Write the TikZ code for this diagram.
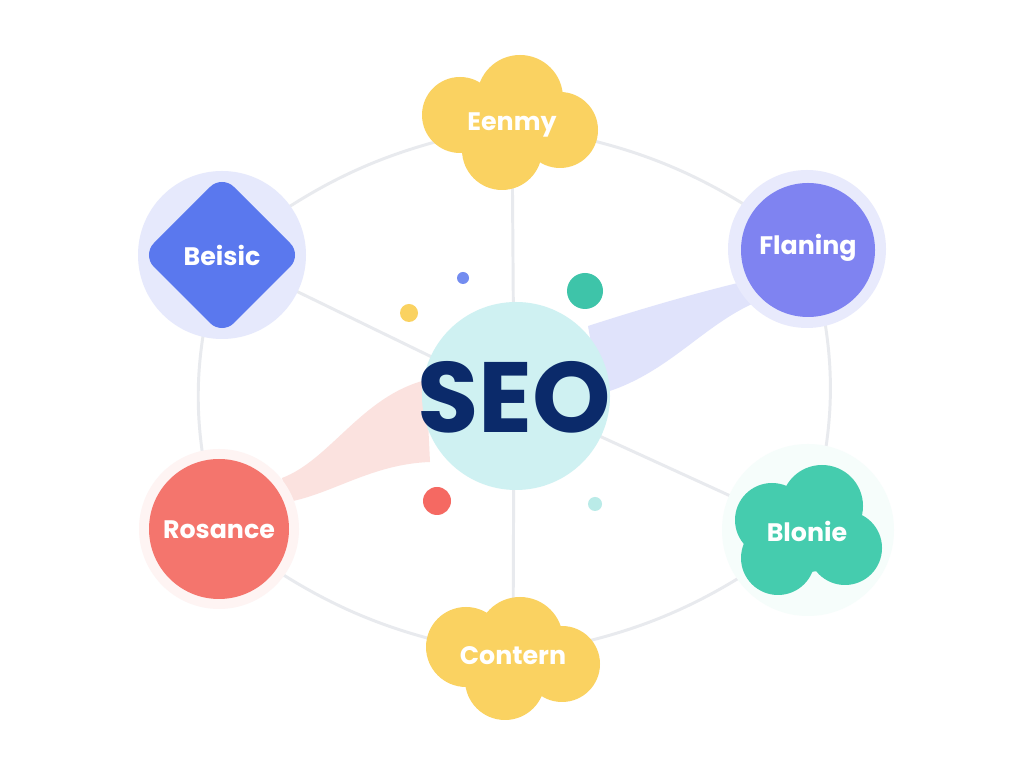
\documentclass[tikz,border=0pt]{standalone}
\usepackage{fontspec}
\setmainfont{Poppins}
\usetikzlibrary{backgrounds}

\definecolor{ringgray}{HTML}{E8EAEE}
\definecolor{seonavy}{HTML}{0B2A6A}
\definecolor{seofill}{HTML}{CFF1F2}
\definecolor{cloudfill}{HTML}{FAD261}
\definecolor{beisicring}{HTML}{E6E9FC}
\definecolor{beisicfill}{HTML}{5A78EE}
\definecolor{flaningring}{HTML}{E8EAFC}
\definecolor{flaningfill}{HTML}{7F83F1}
\definecolor{rosancefill}{HTML}{F4756D}
\definecolor{rosanceglow}{HTML}{FEF4F3}
\definecolor{bloniefill}{HTML}{45CCAE}
\definecolor{blonieglow}{HTML}{F6FDFB}
\definecolor{lavribbon}{HTML}{E0E3FB}
\definecolor{pinkribbon}{HTML}{FBE2DF}

\tikzset{
  leaf/.style={text=white, font=\bfseries\fontsize{18}{20}\selectfont},
  ring line/.style={draw=ringgray, line width=2.1pt, line cap=round},
}

\begin{document}
\begin{tikzpicture}[x=0.025cm, y=0.025cm]
\useasboundingbox (0,0) rectangle (1024,768);

% text nodes
\node[text=seonavy, font=\bfseries\fontsize{71}{71}\selectfont] (seo) at (514,371) {SEO};
\node[leaf] (eenmy) at (512,643) {Eenmy};
\node[leaf] (beisic) at (222,513) {Beisic};
\node[leaf] (flaning) at (808,520) {Flaning};
\node[leaf] (rosance) at (219,238) {Rosance};
\node[leaf] (blonie) at (807,237) {Blonie};
\node[leaf] (contern) at (513,112) {Contern};

\begin{pgfonlayer}{background}
  \fill[white] (0,0) rectangle (1024,768);

  % outer ring
  \draw[ring line] (eenmy.center) to[bend left=14] (flaning.center)
    to[bend left=16] (blonie.center) to[bend left=14] (contern.center)
    to[bend left=14] (rosance.center) to[bend left=16] (beisic.center)
    to[bend left=14] (eenmy.center);

  % spokes
  \draw[ring line] (seo.center) -- (eenmy.center);
  \draw[ring line] (seo.center) -- (contern.center);
  \draw[ring line] (seo.center) -- (beisic.center);
  \draw[ring line] (seo.center) -- (blonie.center);

  % ribbons
  \fill[lavribbon]
    (588,442) .. controls (650,462) and (700,476) .. (750,488)
    -- (752,464) .. controls (700,440) and (665,392) .. (600,374) -- cycle;
  \fill[pinkribbon]
    (282,290) .. controls (330,308) and (362,372) .. (426,388)
    -- (430,306) .. controls (372,304) and (332,274) .. (288,266) -- cycle;

  % centre
  \fill[seofill] (516,372) circle (94);

  % dots
  \fill[beisicfill!85!white] (463,490) circle (6);
  \fill[cloudfill] (409,455) circle (9);
  \fill[bloniefill!90!teal] (585,477) circle (18);
  \fill[rosancefill!90!red] (437,267) circle (14);
  \fill[seofill!85!bloniefill] (595,264) circle (7);

  % Eenmy cloud
  \fill[cloudfill]
    (520,670) circle (43) (460,653) circle (38) (560,638) circle (38)
    (502,618) circle (40) (512,643) circle (45);

  % Contern cloud
  \fill[cloudfill]
    (520,128) circle (43) (466,121) circle (40) (562,104) circle (38)
    (505,88) circle (40) (512,111) circle (45);

  % Beisic
  \fill[beisicring] (222,513) circle (84);
  \fill[beisicfill, rounded corners=12pt]
    (222,593) -- (302,513) -- (222,433) -- (142,513) -- cycle;

  % Flaning
  \fill[flaningring] (807,519) circle (79);
  \fill[flaningfill] (808,518) circle (67);

  % Rosance
  \fill[rosanceglow] (219,239) circle (80);
  \fill[rosancefill] (219,239) circle (70);

  % Blonie cloud
  \fill[blonieglow] (808,238) circle (86);
  \fill[bloniefill]
    (822,262) circle (41) (772,248) circle (37) (845,220) circle (37)
    (778,210) circle (37) (808,238) circle (42);
\end{pgfonlayer}
\end{tikzpicture}
\end{document}
